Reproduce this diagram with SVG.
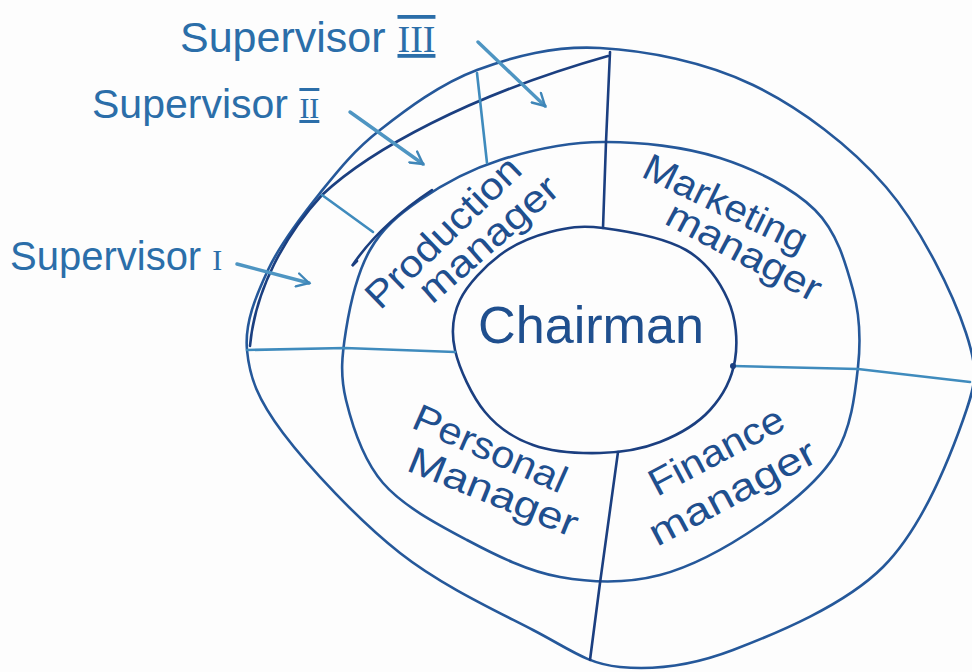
<svg xmlns="http://www.w3.org/2000/svg" width="972" height="672" viewBox="0 0 972 672">
  <defs>
    <style>
      .ring { fill: none; stroke: #25589a; stroke-width: 2.6; stroke-linecap: round; stroke-linejoin: round; }
      .dark { fill: none; stroke: #1b3f80; stroke-width: 2.6; stroke-linecap: round; }
      .light { fill: none; stroke: #3f8bbd; stroke-width: 2.6; stroke-linecap: round; }
      .pointer { fill: none; stroke: #4e95c2; stroke-width: 3.4; stroke-linecap: round; }
      .hand { font-family: "Liberation Sans", "DejaVu Sans", sans-serif; fill: #1f4f8e; }
      .sup { font-family: "Liberation Sans", "DejaVu Sans", sans-serif; fill: #2b6ea9; }
      .num { font-family: "Liberation Serif", "DejaVu Serif", serif; fill: #2b6ea9; }
      .barred { text-decoration: underline overline; }
    </style>
    <marker id="head" viewBox="0 0 12 12" refX="10" refY="6" markerWidth="16" markerHeight="16" markerUnits="userSpaceOnUse" orient="auto">
      <path d="M1,1 L10,6 L1,11" fill="none" stroke="#3f86b8" stroke-width="1.8" stroke-linecap="round"/>
    </marker>
  </defs>

  <rect width="972" height="672" fill="#fdfdfd"/>

  <!-- concentric rings -->
  <g id="rings">
    <!-- outer ring (supervisors) -->
    <path class="ring" d="M600,48 C646,50.5 705.3,61.8 753,85 C800.7,108.2 850.5,145.7 886,187 C921.5,228.3 953.2,294.2 966,333 C978.8,371.8 976.8,381 963,420 C949.2,459 921.3,528.7 883,567 C844.7,605.3 776.8,633.3 733,650 C689.2,666.7 653.3,670.3 620,667 C586.7,663.7 569.7,649 533,630 C496.3,611 441.7,585.8 400,553 C358.3,520.2 308.5,466.8 283,433 C257.5,399.2 249.5,377.2 247,350 C244.5,322.8 255.8,296.2 268,270 C280.2,243.8 301.3,216.3 320,193 C338.7,169.7 353.8,150.5 380,130 C406.2,109.5 440.3,83.7 477,70 C513.7,56.3 554,45.5 600,48 Z"/>
    <!-- second stroke of the outer ring, upper left -->
    <path class="dark" d="M250,346 C255,290 285,235 322,195 C370,150 470,95 608,56"/>
    <!-- middle ring (managers) -->
    <path class="ring" d="M603,142 C639.7,141.7 684.7,146.7 720,158 C755.3,169.3 792.8,188 815,210 C837.2,232 845.8,263.8 853,290 C860.2,316.2 861,339.5 858,367 C855,394.5 851.3,428.7 835,455 C818.7,481.3 789.2,505 760,525 C730.8,545 693.3,566.3 660,575 C626.7,583.7 592.2,582.8 560,577 C527.8,571.2 496.5,555.7 467,540 C437.5,524.3 403.2,506.3 383,483 C362.8,459.7 352.2,425.5 346,400 C339.8,374.5 342,355 346,330 C350,305 357.7,271.7 370,250 C382.3,228.3 398.3,215 420,200 C441.7,185 469.5,169.7 500,160 C530.5,150.3 566.3,142.3 603,142 Z"/>
    <!-- second stroke of the middle ring, upper left -->
    <path class="dark" d="M432,190 C402,210 372,236 352,266 L357,261"/>
    <!-- inner ring (chairman) -->
    <path class="dark" d="M603,228 C625.7,231 665.2,238 686,250 C706.8,262 719.8,281.7 728,300 C736.2,318.3 738,341.7 735,360 C732,378.3 722.5,396.3 710,410 C697.5,423.7 678.3,434.8 660,442 C641.7,449.2 621.2,452.5 600,453 C578.8,453.5 552.2,451.8 533,445 C513.8,438.2 498,427.8 485,412 C472,396.2 459.2,368.7 455,350 C450.8,331.3 452.5,315.8 460,300 C467.5,284.2 485,266.3 500,255 C515,243.7 532.8,236.5 550,232 C567.2,227.5 580.3,225 603,228 Z"/>
  </g>

  <!-- dividing lines and pointers -->
  <g id="connectors">
    <path class="dark" d="M610,52 L606,142 L603,228"/>
    <path class="light" d="M247,350 L345,348 L455,352"/>
    <path class="light" d="M733,366 L858,369 L970,382"/>
    <path class="dark" d="M618,452 L600,583 L590,660"/>
    <circle cx="733" cy="366" r="3" fill="#1b3f80"/>
    <path class="light" d="M322,195 L373,232"/>
    <path class="light" d="M477,73 L487,163"/>
    <path class="pointer" d="M237,264 L309,283" marker-end="url(#head)"/>
    <path class="pointer" d="M350,112 L423,164" marker-end="url(#head)"/>
    <path class="pointer" d="M478,42 L545,106" marker-end="url(#head)"/>
  </g>

  <g id="chairman">
    <text class="hand" x="478" y="343" font-size="52" textLength="226" lengthAdjust="spacingAndGlyphs" fill="#2a66a3">Chairman</text>
  </g>

  <g id="production-manager">
    <text class="hand" font-size="38" transform="translate(380,311) rotate(-44)" textLength="200" lengthAdjust="spacingAndGlyphs">Production</text>
    <text class="hand" font-size="38" transform="translate(432,305) rotate(-41)" textLength="172" lengthAdjust="spacingAndGlyphs">manager</text>
  </g>

  <g id="marketing-manager">
    <text class="hand" font-size="38" transform="translate(640,176) rotate(26)" textLength="178" lengthAdjust="spacingAndGlyphs">Marketing</text>
    <text class="hand" font-size="38" transform="translate(663,223) rotate(28)" textLength="170" lengthAdjust="spacingAndGlyphs">manager</text>
  </g>

  <g id="personal-manager">
    <text class="hand" font-size="38" transform="translate(410,427) rotate(24)" textLength="164" lengthAdjust="spacingAndGlyphs">Personal</text>
    <text class="hand" font-size="38" transform="translate(405,470) rotate(22)" textLength="180" lengthAdjust="spacingAndGlyphs">Manager</text>
  </g>

  <g id="finance-manager">
    <text class="hand" font-size="38" transform="translate(657,497) rotate(-28)" textLength="148" lengthAdjust="spacingAndGlyphs">Finance</text>
    <text class="hand" font-size="38" transform="translate(657,547) rotate(-28)" textLength="184" lengthAdjust="spacingAndGlyphs">manager</text>
  </g>

  <g id="supervisor-1">
    <text class="sup" x="10" y="270" font-size="40">Supervisor <tspan class="num" font-size="30">I</tspan></text>
  </g>

  <g id="supervisor-2">
    <text class="sup" x="92" y="118" font-size="41">Supervisor <tspan class="num barred" font-size="30">II</tspan></text>
  </g>

  <g id="supervisor-3">
    <text class="sup" x="180" y="52" font-size="43">Supervisor <tspan class="num barred" font-size="38">III</tspan></text>
  </g>
</svg>
